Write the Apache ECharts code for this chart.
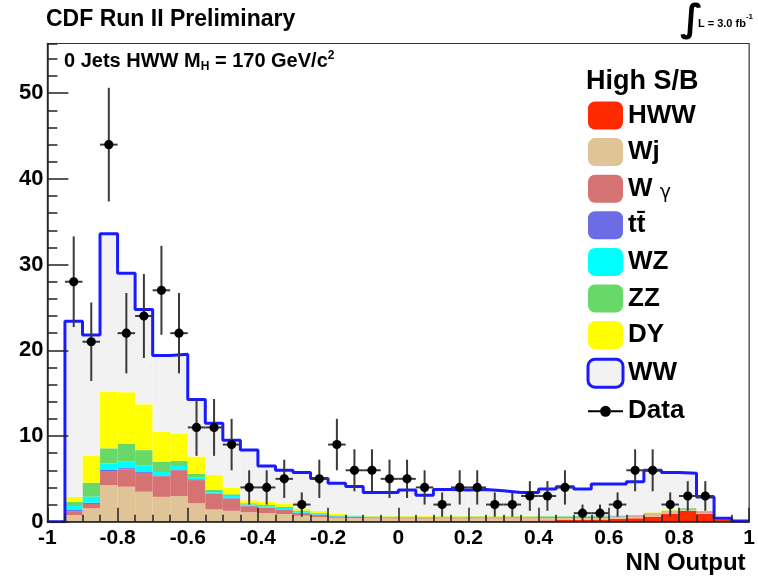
<!DOCTYPE html>
<html>
<head>
<meta charset="utf-8">
<script src="https://cdn.jsdelivr.net/npm/echarts@6/dist/echarts.min.js"></script>
<style>
html,body{margin:0;padding:0;background:#fff;}
#c{width:758px;height:577px;}
</style>
</head>
<body>
<div id="c"></div>
<script>
// ---- data (NN output histogram, 40 bins of width 0.05 from -1 to 1) ----
const binCenters = [-0.975,-0.925,-0.875,-0.825,-0.775,-0.725,-0.675,-0.625,-0.575,-0.525,
  -0.475,-0.425,-0.375,-0.325,-0.275,-0.225,-0.175,-0.125,-0.075,-0.025,
  0.025,0.075,0.125,0.175,0.225,0.275,0.325,0.375,0.425,0.475,
  0.525,0.575,0.625,0.675,0.725,0.775,0.825,0.875,0.925,0.975];
const binWidth = 0.05;
const dataCounts = [0,28,21,44,22,24,27,22,11,11,9,4,4,5,2,5,9,6,6,5,
  5,4,2,4,4,2,2,3,3,4,1,1,2,6,6,2,3,3,0,0];
const hww = [0,.05,.05,.08,.08,.08,.07,.07,.06,.06,.05,.05,.05,.05,.05,.05,.05,.05,.05,.06,
  .06,.07,.08,.08,.1,.1,.12,.13,.15,.2,.22,.25,.35,.4,.6,.9,1.28,.9,.2,0];
const wj = [0,.73,1.51,4.2,4.0,3.42,2.83,2.93,2.08,1.37,1.22,1.05,.95,.85,.65,.5,.4,.35,.35,.33,
  .32,.3,.3,.3,.3,.28,.28,.27,.3,.25,.23,.2,.2,.2,.25,.2,.14,.15,.05,0];
const wg = [0,.39,.51,1.63,2.02,2.2,2.4,3.0,2.71,1.8,1.43,.7,.6,.5,.3,.25,.15,.15,.1,.1,
  .1,.1,.1,.1,.1,.1,.1,.1,.1,.1,.1,.1,.07,.08,.08,.08,.06,.07,.03,0];
const ttbar = [0,.19,.15,.12,.15,.1,.1,.1,.1,.07,.05,.05,.05,.05,.05,.03,.02,.02,.02,.02,
  .02,.02,.02,.02,.02,.02,.02,.02,.01,.01,.01,.01,.01,.01,.01,.01,.01,.01,0,0];
const wz = [0,.47,.7,.77,.75,.8,.4,.4,.25,.15,.25,.15,.15,.15,.1,.07,.06,.05,.04,.04,
  .04,.04,.04,.04,.04,.04,.04,.04,.04,.04,.04,.04,.03,.03,.04,.03,.03,.03,.02,0];
const zz = [0,.5,1.63,1.76,2.1,1.75,1.2,.6,.4,.25,.2,.15,.15,.15,.15,.1,.07,.06,.06,.06,
  .06,.06,.06,.06,.06,.06,.06,.06,.05,.05,.08,.12,.06,.06,.07,.08,.08,.09,.02,0];
const dy = [0,.59,3.11,6.59,6.0,5.35,3.5,3.2,2.0,1.74,.8,.35,.35,.35,.25,.25,.15,.12,.1,.1,
  .1,.1,.1,.1,.1,.1,.1,.1,.1,.07,.04,.03,.03,.02,.05,.05,.02,.03,.01,0];
const ww = [0,20.48,14.14,18.45,13.9,11.05,8.9,9.25,6.65,6.06,5.5,5.86,4.2,3.9,4.2,3.8,3.6,3.3,2.7,2.71,
  2.99,2.41,3.05,3.0,3.03,2.9,2.7,2.7,3.06,3.36,3.09,3.65,3.65,3.86,4.9,4.4,4.02,1.59,.07,.08];
const xTicks = {min: -1, max: 1, interval: 0.2};
const yTicks = {min: 0, max: 55.8, interval: 10, minor: 2};

// ---- build ----
const components = [
  {name: 'HWW', values: hww, color: '#ff2a00'},
  {name: 'Wj', values: wj, color: '#e0c397'},
  {name: 'Wγ', values: wg, color: '#d57272'},
  {name: 'tt\u0304', values: ttbar, color: '#6c6ce4'},
  {name: 'WZ', values: wz, color: '#00ffff'},
  {name: 'ZZ', values: zz, color: '#68d868'},
  {name: 'DY', values: dy, color: '#ffff00'},
  {name: 'WW', values: ww, color: '#f2f2f2'}
];
const totals = binCenters.map((c, i) => components.reduce((s, comp) => s + comp.values[i], 0));
const outline = binCenters.map((c, i) => [c - binWidth / 2, totals[i]]);
outline.push([binCenters[binCenters.length - 1] + binWidth / 2, 0]);
const dataPts = binCenters.map((c, i) => [c, dataCounts[i]]);

const FONT = 'Liberation Sans, Arial, Helvetica, sans-serif';
const chart = echarts.init(document.getElementById('c'), null, {renderer: 'canvas'});

const series = components.map(comp => ({
  name: comp.name, type: 'bar', stack: 'mc', xAxisIndex: 1, yAxisIndex: 0,
  barCategoryGap: '0%', barGap: '0%',
  itemStyle: {color: comp.color}, emphasis: {disabled: true},
  data: comp.values, z: 2, silent: true, animation: false
}));
series.push({
  name: 'WW_outline', type: 'line', xAxisIndex: 0, yAxisIndex: 0, step: 'end',
  symbol: 'none', lineStyle: {color: '#1a1aff', width: 3}, data: outline, z: 4,
  animation: false, silent: true
});
series.push({
  name: 'Data', type: 'custom', xAxisIndex: 0, yAxisIndex: 0, z: 10,
  itemStyle: {color: '#000'}, animation: false,
  encode: {x: 0, y: 1},
  data: dataPts,
  renderItem: function (params, api) {
    const n = api.value(1);
    if (!(n > 0)) return null;
    const x = api.value(0);
    const e = Math.sqrt(n);
    const c = api.coord([x, n]);
    const lo = api.coord([x, n - e]);
    const hi = api.coord([x, n + e]);
    const l = api.coord([x - binWidth / 2, n]);
    const r = api.coord([x + binWidth / 2, n]);
    return {type: 'group', children: [
      {type: 'line', shape: {x1: lo[0], y1: lo[1], x2: hi[0], y2: hi[1]}, style: {stroke: '#3a3a3a', lineWidth: 2}},
      {type: 'line', shape: {x1: l[0], y1: l[1], x2: r[0], y2: r[1]}, style: {stroke: '#3a3a3a', lineWidth: 2}},
      {type: 'circle', shape: {cx: c[0], cy: c[1], r: 4.6}, style: {fill: '#000'}}
    ]};
  }
});

const legendData = components.map(comp => {
  if (comp.name === 'WW') return {name: 'WW', itemStyle: {color: '#f2f2f2', borderColor: '#1a1aff', borderWidth: 3}};
  return {name: comp.name};
});
legendData.push({name: 'Data', icon: 'path://M0,13H12V15H0Z M23,13H35V15H23Z M23,14A5.5,5.5,0,1,1,12,14A5.5,5.5,0,1,1,23,14Z M0,0H0.01V0.01H0Z M35,28H34.99V27.99H35Z'});

const gridPos = {left: 47.4, right: 6.4, top: 43.5, bottom: 55.3};

chart.setOption({
  backgroundColor: '#ffffff',
  animation: false,
  title: [
    {text: 'CDF Run II Preliminary', left: 46, top: 8, padding: 0,
      textStyle: {fontFamily: FONT, fontSize: 23, fontWeight: 'bold', color: '#000'}},
    {text: '∫', left: 680, top: 1, padding: 0,
      textStyle: {fontFamily: 'DejaVu Sans', fontSize: 38, fontWeight: 'bold', color: '#000', lineHeight: 40}},
    {text: '{t|L = 3.0 fb}{s|-1}', right: 5, top: 13, padding: 0,
      textStyle: {rich: {
        t: {fontFamily: FONT, fontSize: 11, color: '#000', verticalAlign: 'bottom', lineHeight: 16},
        s: {fontFamily: FONT, fontSize: 8, color: '#000', verticalAlign: 'top', lineHeight: 16}
      }}},
    {text: '{t|0 Jets HWW M}{b|H}{t| = 170 GeV/c}{p|2}', left: 64, top: 49, padding: 0,
      textStyle: {rich: {
        t: {fontFamily: FONT, fontSize: 20, fontWeight: 'bold', color: '#000', lineHeight: 24, verticalAlign: 'middle'},
        b: {fontFamily: FONT, fontSize: 12, fontWeight: 'bold', color: '#000', lineHeight: 24, verticalAlign: 'bottom'},
        p: {fontFamily: FONT, fontSize: 12, fontWeight: 'bold', color: '#000', lineHeight: 24, verticalAlign: 'top', padding: [1, 0, 0, 0]}
      }}},
    {text: 'High S/B', left: 586, top: 68, padding: 0,
      textStyle: {fontFamily: FONT, fontSize: 27, fontWeight: 'bold', color: '#000'}}
  ],
  legend: {
    orient: 'vertical', left: 586.5, top: 101.5, padding: 0,
    itemWidth: 35, itemHeight: 28, itemGap: 8.6,
    selectedMode: false,
    data: legendData,
    formatter: function (name) {
      if (name === 'Wγ') return '{n|W }{g|γ}';
      return '{n|' + name + '}';
    },
    textStyle: {
      fontFamily: FONT, fontSize: 26, fontWeight: 'bold', color: '#000', lineHeight: 28,
      rich: {
        n: {fontFamily: FONT, fontSize: 26, fontWeight: 'bold', color: '#000', lineHeight: 28},
        g: {fontFamily: 'DejaVu Sans', fontSize: 19, fontWeight: 'normal', color: '#000', lineHeight: 28, verticalAlign: 'bottom'}
      }
    }
  },
  grid: [
    Object.assign({show: true, borderColor: '#333', borderWidth: 1.2, backgroundColor: 'transparent'}, gridPos),
    Object.assign({show: false}, gridPos)
  ],
  xAxis: [
    {type: 'value', gridIndex: 0, min: xTicks.min, max: xTicks.max, interval: xTicks.interval, z: 6,
      name: 'NN Output', nameLocation: 'end', nameGap: -3.6,
      nameTextStyle: {fontFamily: FONT, fontSize: 24, fontWeight: 'bold', color: '#000', align: 'right', verticalAlign: 'top', padding: [30, 0, 0, 0]},
      axisLine: {show: true, onZero: false, lineStyle: {color: '#222', width: 1.5}},
      axisTick: {show: true, inside: true, length: 14, lineStyle: {color: '#222', width: 1.5}},
      minorTick: {show: true, splitNumber: 4, length: 7, lineStyle: {color: '#222', width: 1.5}},
      splitLine: {show: false},
      axisLabel: {fontFamily: FONT, fontSize: 21, fontWeight: 'bold', color: '#000', margin: 6}
    },
    {type: 'category', gridIndex: 0, data: binCenters.map(String), show: false, boundaryGap: true},
    {type: 'value', gridIndex: 1, min: xTicks.min, max: xTicks.max, show: false, axisLine: {onZero: false}}
  ],
  yAxis: [
    {type: 'value', gridIndex: 0, min: yTicks.min, max: yTicks.max, interval: yTicks.interval, z: 6,
      axisLine: {show: true, onZero: false, lineStyle: {color: '#222', width: 1.5}},
      axisTick: {show: true, inside: true, length: 21, lineStyle: {color: '#222', width: 1.5}},
      splitLine: {show: false},
      axisLabel: {fontFamily: FONT, fontSize: 22, fontWeight: 'bold', color: '#000', margin: 4, showMaxLabel: false}
    },
    {type: 'value', gridIndex: 1, min: yTicks.min, max: yTicks.max, interval: yTicks.minor, z: 6,
      axisLine: {show: false, onZero: false},
      axisTick: {show: true, inside: true, length: 10, lineStyle: {color: '#222', width: 1.5}},
      splitLine: {show: false},
      axisLabel: {show: false}
    }
  ],
  series: series
});
</script>
</body>
</html>
